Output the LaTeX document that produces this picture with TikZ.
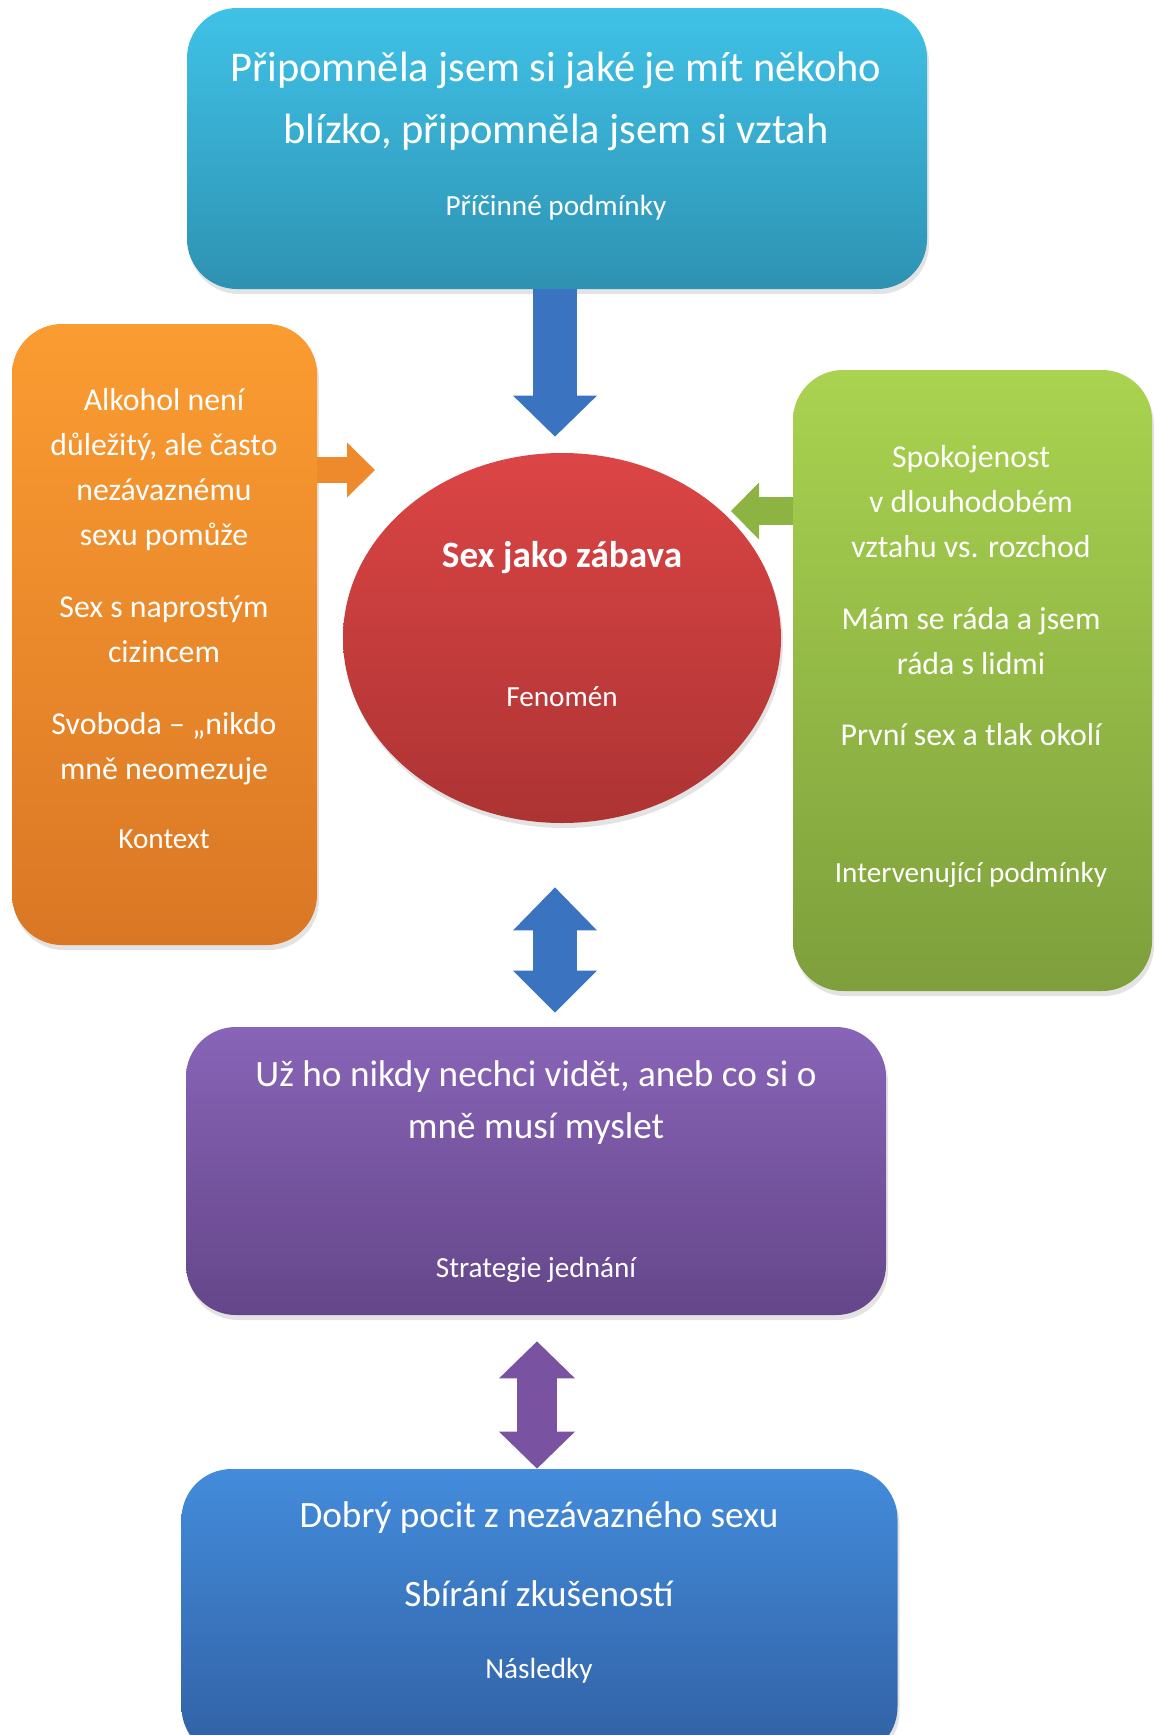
\documentclass[tikz,border=0pt]{standalone}
\usepackage{fontspec}
\setmainfont{Carlito}
\usetikzlibrary{arrows.meta, positioning, shadows, shapes.geometric, calc}
\definecolor{cCauseT}{HTML}{3FC2E7}
\definecolor{cCauseB}{HTML}{2E92B2}
\definecolor{cCtxT}{HTML}{FB9C31}
\definecolor{cCtxB}{HTML}{DA7725}
\definecolor{cIntT}{HTML}{A9D350}
\definecolor{cIntB}{HTML}{7E9F3C}
\definecolor{cPhenT}{HTML}{DC4545}
\definecolor{cPhenB}{HTML}{AD3333}
\definecolor{cStrT}{HTML}{8864B7}
\definecolor{cStrB}{HTML}{654689}
\definecolor{cConT}{HTML}{438CDB}
\definecolor{cConB}{HTML}{3160A4}
\definecolor{cArrBlue}{HTML}{3A74C0}
\definecolor{cArrOrange}{HTML}{EE8A2C}
\definecolor{cArrGreen}{HTML}{8DB443}
\definecolor{cArrPurple}{HTML}{7953A2}
\tikzset{
  panel/.style={rectangle, rounded corners=25pt, inner sep=0pt,
    drop shadow={shadow xshift=1pt, shadow yshift=-2.5pt, opacity=0.22}},
  txt/.style={text=white, align=center, inner sep=0pt, anchor=base},
  big/.style={font=\fontsize{18.6}{26}\selectfont},
  mid/.style={font=\fontsize{15.9}{22.5}\selectfont},
  lbl/.style={font=\fontsize{14.6}{17}\selectfont},
}
\begin{document}
\begin{tikzpicture}[x=0.5pt, y=-0.5pt,
    downarr/.style={draw=cArrBlue, line width=22pt, -{Triangle[length=20.5pt, width=42pt, line width=0pt]}},
    ctxarr/.style={draw=cArrOrange, line width=13pt, -{Triangle[length=14pt, width=27.5pt, line width=0pt]}},
    intarr/.style={draw=cArrGreen, line width=14pt, -{Triangle[length=14pt, width=28.5pt, line width=0pt]}},
    dblblue/.style={draw=cArrBlue, line width=22pt, {Triangle[length=21.5pt, width=42pt, line width=0pt]}-{Triangle[length=21pt, width=42pt, line width=0pt]}},
    dblpurple/.style={draw=cArrPurple, line width=20pt, {Triangle[length=18.5pt, width=38pt, line width=0pt]}-{Triangle[length=18.5pt, width=38pt, line width=0pt]}}]
\useasboundingbox (0,0) rectangle (1155,1735);
\clip (0,0) rectangle (1155,1735);
% panels
\node[panel, top color=cCauseT, bottom color=cCauseB, minimum width=370pt, minimum height=140.5pt] (cause) at (557,148.5) {};
\node[panel, top color=cCtxT, bottom color=cCtxB, minimum width=152.5pt, minimum height=310.5pt] (context) at (164.5,634.5) {};
\node[panel, top color=cIntT, bottom color=cIntB, minimum width=179.5pt, minimum height=310.5pt] (interv) at (972.5,680.5) {};
\node[ellipse, inner sep=0pt, top color=cPhenT, bottom color=cPhenB, minimum width=219pt, minimum height=185pt,
  drop shadow={shadow xshift=1pt, shadow yshift=-2.5pt, opacity=0.22}] (phen) at (562,638) {};
\node[panel, top color=cStrT, bottom color=cStrB, minimum width=350pt, minimum height=144pt] (strategy) at (536,1171) {};
\node[panel, top color=cConT, bottom color=cConB, minimum width=358pt, minimum height=144pt] (conseq) at (539.5,1613) {};
% texts (base = last line)
\node[txt, font=\fontsize{21.2}{31}\selectfont] (causetxt) at (556,143) {Připomněla jsem si jaké je mít někoho\\blízko, připomněla jsem si vztah};
\node[txt, lbl] (causelbl) at (556,215) {Příčinné podmínky};
\node[txt, mid] (ctxtxt) at (164,779) {Alkohol není\\důležitý, ale často\\nezávaznému\\sexu pomůže\\[13.5pt]Sex s naprostým\\cizincem\\[13.5pt]Svoboda – „nikdo\\mně neomezuje};
\node[txt, lbl] (ctxlbl) at (164,848) {Kontext};
\node[txt, mid] (inttxt) at (971,745) {Spokojenost\\v~dlouhodobém\\vztahu vs. rozchod\\[13.5pt]Mám se ráda a jsem\\ráda s lidmi\\[13pt]První sex a tlak okolí};
\node[txt, lbl] (intlbl) at (971,882) {Intervenující podmínky};
\node[txt, font=\bfseries\fontsize{18.6}{22}\selectfont] (phentxt) at (562,567) {Sex jako zábava};
\node[txt, lbl] (phenlbl) at (562,706) {Fenomén};
\node[txt, big] (strtxt) at (536,1138) {Už ho nikdy nechci vidět, aneb co si o\\mně musí myslet};
\node[txt, lbl] (strlbl) at (536,1277) {Strategie jednání};
\node[txt, font=\fontsize{18.6}{39.5}\selectfont] (contxt) at (539,1606) {Dobrý pocit z nezávazného sexu\\Sbírání zkušeností};
\node[txt, lbl] (conlbl) at (539,1678) {Následky};
% arrows
\coordinate (axis) at (555,0);
\coordinate (axisb) at (537,0);
\coordinate (ctxtip) at (375,470);
\coordinate (inttip) at (731,511);
\draw[downarr, shorten >=8pt] (axis |- cause.south) -- (axis |- phen.north);
\draw[ctxarr] (context.east |- ctxtip) -- (ctxtip);
\draw[intarr] (interv.west |- inttip) -- (inttip);
\draw[dblblue, shorten <=32pt, shorten >=7pt] (axis |- phen.south) -- (axis |- strategy.north);
\draw[dblpurple, shorten <=13pt] (axisb |- strategy.south) -- (axisb |- conseq.north);
\end{tikzpicture}
\end{document}
